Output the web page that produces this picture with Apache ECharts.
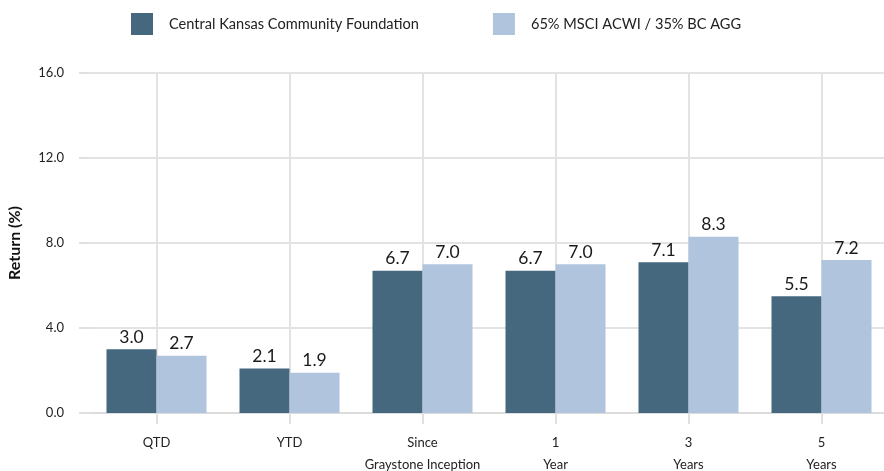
<!DOCTYPE html>
<html><head><meta charset="utf-8">
<script src="https://cdn.jsdelivr.net/npm/echarts@6/dist/echarts.min.js"></script>
<style>html,body{margin:0;padding:0;background:#fff}#c{width:884px;height:471px}</style>
</head><body><div id="c"></div>
<script>
const categories = ['QTD', 'YTD', 'Since\nGraystone Inception', '1\nYear', '3\nYears', '5\nYears'];
const seriesNames = ['Central Kansas Community Foundation', '65% MSCI ACWI / 35% BC AGG'];
const foundation = [3.0, 2.1, 6.7, 6.7, 7.1, 5.5];
const benchmark = [2.7, 1.9, 7.0, 7.0, 8.3, 7.2];
const yTicks = [0, 4, 8, 12, 16];

const FONT = 'Lato';
const chart = echarts.init(document.getElementById('c'), null, {renderer: 'canvas'});
const labelStyle = {show: true, position: 'top', distance: 3, color: '#1a1a1a', fontSize: 17.5, fontFamily: FONT, formatter: p => p.value.toFixed(1)};
chart.setOption({
  animation: false,
  textStyle: {fontFamily: FONT},
  legend: {
    top: 13, left: 131, padding: 0, itemWidth: 22, itemHeight: 22, itemGap: 74,
    textStyle: {fontSize: 14.6, color: '#222', fontFamily: FONT, padding: [0, 0, 0, 11]},
    data: seriesNames, icon: 'rect'
  },
  grid: {left: 90, top: 73, width: 798, bottom: 58, containLabel: false, outerBoundsMode: 'none'},
  xAxis: {
    type: 'category', data: categories,
    axisLine: {show: true, lineStyle: {color: '#dcdcdc', width: 2}},
    axisTick: {show: true, interval: 0, alignWithLabel: true, length: 11, lineStyle: {color: '#e0e0e0', width: 2}},
    splitLine: {show: true, interval: 0, alignWithLabel: true, lineStyle: {color: '#e3e3e3', width: 2}},
    axisLabel: {interval: 0, color: '#222', fontSize: 13, fontFamily: FONT, margin: 19, lineHeight: 22}
  },
  yAxis: {
    type: 'value', min: yTicks[0], max: yTicks[yTicks.length - 1], interval: 4,
    name: 'Return (%)', nameLocation: 'middle', nameGap: 67,
    nameTextStyle: {fontSize: 16, fontWeight: 'bold', color: '#111', fontFamily: FONT},
    axisLine: {show: false},
    axisTick: {show: true, length: 11, lineStyle: {color: '#e0e0e0', width: 2}},
    splitLine: {show: true, lineStyle: {color: '#e3e3e3', width: 2}},
    axisLabel: {color: '#222', fontSize: 13, fontFamily: FONT, margin: 26, formatter: v => v.toFixed(1)}
  },
  series: [
    {name: seriesNames[0], type: 'bar', data: foundation, barWidth: 50, barGap: '0%',
     itemStyle: {color: '#45687e'}, label: labelStyle},
    {name: seriesNames[1], type: 'bar', data: benchmark, barWidth: 50, barGap: '0%',
     itemStyle: {color: '#b0c4de'}, label: labelStyle}
  ]
});
</script></body></html>
